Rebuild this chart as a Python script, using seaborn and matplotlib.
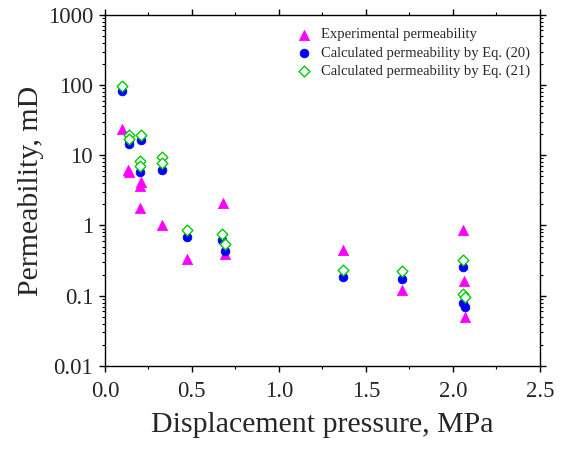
import numpy as np
import pandas as pd
import seaborn as sns
import matplotlib.pyplot as plt
from matplotlib.ticker import FuncFormatter, MultipleLocator, LogLocator, NullFormatter

# --- data ---
exp_x = [0.10, 0.13, 0.14, 0.21, 0.20, 0.20, 0.33, 0.47, 0.68, 0.69, 1.37, 1.71, 2.056, 2.063, 2.07]
exp_k = [23.5, 6.2, 5.8, 4.1, 3.6, 1.8, 1.0, 0.33, 2.1, 0.39, 0.45, 0.121, 0.86, 0.164, 0.050]

eq20_x = [0.10, 0.14, 0.14, 0.21, 0.20, 0.33, 0.47, 0.676, 0.69, 1.37, 1.71, 2.056, 2.06, 2.07]
eq20_k = [81, 16.6, 14.5, 16.6, 5.7, 6.2, 0.695, 0.62, 0.435, 0.183, 0.173, 0.255, 0.080, 0.070]

eq21_x = [0.10, 0.14, 0.14, 0.21, 0.20, 0.20, 0.33, 0.33, 0.47, 0.676, 0.69, 1.37, 1.71, 2.056, 2.06, 2.07]
eq21_k = [98, 19.5, 17.1, 19.5, 8.3, 7.1, 9.3, 7.7, 0.865, 0.76, 0.54, 0.233, 0.228, 0.324, 0.106, 0.095]

labels = ["Experimental permeability",
          "Calculated permeability by Eq. (20)",
          "Calculated permeability by Eq. (21)"]

sns.set_style("ticks")
plt.rcParams['font.family'] = ['Liberation Serif', 'DejaVu Serif']

fig, ax = plt.subplots(figsize=(5.67, 4.49), dpi=100)
fig.subplots_adjust(left=0.185, right=0.952, top=0.967, bottom=0.185)

sns.scatterplot(x=exp_x, y=exp_k, ax=ax, marker='^', s=55, color='#FF00FF',
                edgecolor='#FF00FF', linewidth=0.5, label=labels[0], zorder=3)
sns.scatterplot(x=eq20_x, y=eq20_k, ax=ax, marker='o', s=40, color='#0000FF',
                edgecolor='#0000FF', linewidth=0.5, label=labels[1], zorder=4)
sns.scatterplot(x=eq21_x, y=eq21_k, ax=ax, marker='D', s=30, facecolor='white',
                edgecolor='#00CC00', linewidth=1.0, label=labels[2], zorder=5)

ax.set_yscale('log')
ax.set_xlim(0, 2.5)
ax.set_ylim(0.01, 1000)
ax.xaxis.set_major_locator(MultipleLocator(0.5))
ax.xaxis.set_minor_locator(MultipleLocator(0.25))
ax.xaxis.set_major_formatter(FuncFormatter(lambda v, p: f"{v:.1f}"))
ax.yaxis.set_major_locator(LogLocator(base=10, numticks=10))
ax.yaxis.set_minor_locator(LogLocator(base=10, subs=np.arange(2, 10), numticks=20))
ax.yaxis.set_minor_formatter(NullFormatter())
ax.yaxis.set_major_formatter(FuncFormatter(lambda v, p: f"{v:g}"))

for s in ax.spines.values():
    s.set_visible(True)
    s.set_linewidth(1.0)
    s.set_color('black')
ax.tick_params(which='both', direction='out', top=True, right=True, color='black')
ax.tick_params(which='major', length=4, width=1.0, labelsize=16.5)
ax.tick_params(axis='x', which='major', pad=7)
ax.tick_params(axis='y', which='major', pad=4.5)
ax.tick_params(which='minor', length=2.5, width=0.8)

ax.set_xlabel("Displacement pressure, MPa", fontsize=21.5, labelpad=7)
ax.set_ylabel("Permeability, mD", fontsize=21.5, labelpad=3)

ax.legend(loc='upper right', frameon=False, fontsize=10.5, handletextpad=0.2,
          borderaxespad=0.4, labelspacing=0.33, bbox_to_anchor=(1.005, 0.995))

fig.savefig("out.png", dpi=100)
